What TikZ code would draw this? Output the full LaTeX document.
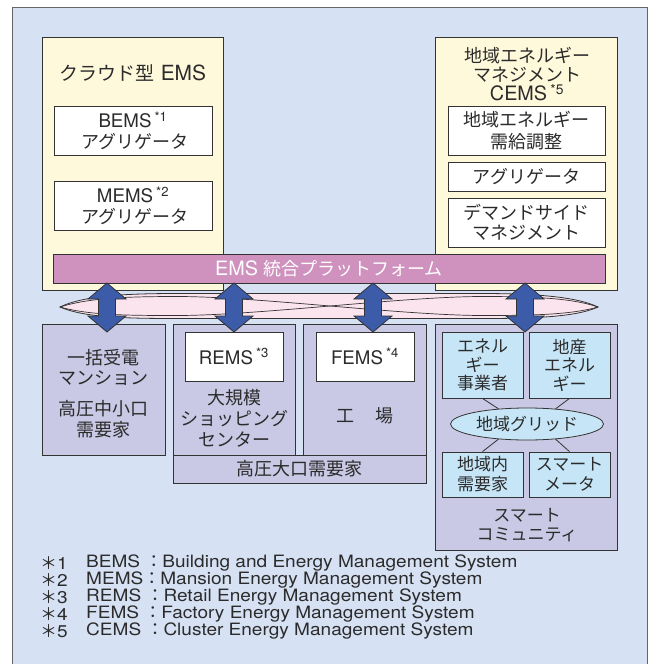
\documentclass[tikz,border=0pt]{standalone}
\usepackage{fontspec}
\setmainfont[Scale=1.1]{TeX Gyre Heros}
\newfontfamily\jpf{Noto Sans CJK JP}
\newfontfamily\footf[FakeStretch=1.12]{TeX Gyre Heros}
\usetikzlibrary{shapes.geometric,calc}
\definecolor{bgblue}{HTML}{D6E1F3}
\definecolor{ylw}{HTML}{FFF9DC}
\definecolor{mauve}{HTML}{CF91BE}
\definecolor{lenspink}{HTML}{FBE4EE}
\definecolor{arrblue}{HTML}{3C5BA8}
\definecolor{lav}{HTML}{C9C8E5}
\definecolor{cyanbox}{HTML}{C6E6F8}
\definecolor{textC}{HTML}{2B2B2B}
\definecolor{lineC}{HTML}{333333}
\newcommand\fs[2]{\fontsize{#1}{#2}\selectfont}
\tikzset{
  box/.style={draw=lineC, line width=0.8pt, inner sep=0pt, text=textC, align=center},
  ybox/.style={box, fill=ylw},
  wbox/.style={box, fill=white},
  lbox/.style={box, fill=lav},
  cbox/.style={box, fill=cyanbox},
  txt/.style={inner sep=0pt, text=textC, align=center},
  foot/.style={inner sep=0pt, text=textC, anchor=west, font=\footf\fs{17}{17}},
  arrowst/.style={fill=arrblue, draw=lineC, line width=0.8pt, line join=miter},
  conn/.style={draw=lineC, line width=0.8pt}
}
\begin{document}
\begin{tikzpicture}[x=1pt,y=-1pt]
\clip (0,0) rectangle (653,664);
\fill[white] (0,0) rectangle (653,664);
\draw[fill=bgblue, draw=gray!80!black, line width=0.8pt] (12,7) rectangle (647,700);

% upper yellow boxes
\node[ybox, minimum width=181pt, minimum height=253pt] (cloud) at (132.5,163.5) {};
\node[txt, font=\fs{19}{22}] (cloudt) at (133,73) {{\jpf クラウド型} EMS};
\node[wbox, minimum width=158pt, minimum height=49pt, font=\fs{17}{21}] (bems) at (133,130.5)
  {BEMS\,\textsuperscript{*1}\\{\jpf\fs{18}{21} アグリゲータ}};
\node[wbox, minimum width=158pt, minimum height=49pt, font=\fs{17}{21}] (mems) at (133,205.5)
  {MEMS\,\textsuperscript{*2}\\{\jpf\fs{18}{21} アグリゲータ}};

\node[ybox, minimum width=182pt, minimum height=253pt] (cems) at (526,163.5) {};
\node[txt, font=\fs{18}{19}] (cemst) at (527,74)
  {{\jpf 地域エネルギー}\\{\jpf マネジメント}\\CEMS\,\textsuperscript{*5}};
\node[wbox, minimum width=157pt, minimum height=49pt, font=\fs{18}{22}\jpf] (r1) at (526.5,130.5)
  {地域エネルギー\\需給調整};
\node[wbox, minimum width=157pt, minimum height=29pt, font=\fs{18}{22}\jpf] (r2) at (526.5,176.5)
  {アグリゲータ};
\node[wbox, minimum width=157pt, minimum height=49pt, font=\fs{18}{20}\jpf] (r3) at (526.5,222.5)
  {デマンドサイド\\マネジメント};

% platform bar
\node[box, fill=mauve, text=white, minimum width=552pt, minimum height=29pt, font=\fs{18}{20}] (plat) at (329,268.5)
  {EMS {\jpf 統合プラットフォーム}};

% lens (twisted ribbon)
\filldraw[fill=lenspink, draw=lineC, line width=0.8pt]
  (60,307) .. controls (85,295) and (130,293.5) .. (180,293.5) -- (480,293.5)
  .. controls (530,293.5) and (575,296) .. (598,307)
  .. controls (575,317.5) and (530,318.5) .. (480,318.5) -- (180,318.5)
  .. controls (130,318.5) and (85,318) .. (60,307) -- cycle;
\draw[lineC, line width=0.7pt]
  (60,307) .. controls (90,297.5) and (130,296.5) .. (180,296.5)
  .. controls (260,297) and (400,315) .. (480,315.5)
  .. controls (530,315.5) and (570,315) .. (598,307);
\draw[lineC, line width=0.7pt]
  (60,307) .. controls (90,315.5) and (130,315.5) .. (180,315.5)
  .. controls (260,315) and (400,297) .. (480,296.5)
  .. controls (530,296.5) and (570,297.5) .. (598,307);

% lower boxes
\node[lbox, minimum width=123pt, minimum height=131pt] (boxa) at (103.5,389.5) {};
\node[txt, font=\fs{18}{20}\jpf] (boxat1) at (103.5,367) {一括受電\\マンション};
\node[txt, font=\fs{18}{21}\jpf] (boxat2) at (103.5,419.5) {高圧中小口\\需要家};

\node[lbox, minimum width=122pt, minimum height=131pt] (boxb) at (234,389.5) {};
\node[wbox, minimum width=98pt, minimum height=49pt, font=\fs{17}{20}] (rems) at (234,356.5)
  {REMS\,\textsuperscript{*3}};
\node[txt, font=\fs{18}{21}\jpf] (boxbt) at (234,418) {大規模\\ショッピング\\センター};

\node[lbox, minimum width=123pt, minimum height=131pt] (boxc) at (364.5,389.5) {};
\node[wbox, minimum width=98pt, minimum height=49pt, font=\fs{17}{20}] (fems) at (365,356.5)
  {FEMS\,\textsuperscript{*4}};
\node[txt, font=\fs{18}{20}\jpf] (boxct) at (365,416) {工\hspace{1.2em}場};

\node[lbox, minimum width=253pt, minimum height=28pt, font=\fs{18}{20}\jpf] (large) at (299.5,469)
  {高圧大口需要家};

% smart community
\node[lbox, minimum width=182pt, minimum height=226pt] (smart) at (526,437) {};
\node[cbox, minimum width=81pt, minimum height=66pt, font=\fs{17}{18.5}\jpf] (e1) at (482.5,365)
  {エネル\\ギー\\事業者};
\node[cbox, minimum width=81pt, minimum height=66pt, font=\fs{17}{18.5}\jpf] (e2) at (569.5,365)
  {地産\\エネル\\ギー};
\node[box, ellipse, fill=cyanbox, minimum width=153pt, minimum height=32pt, font=\fs{17}{20}\jpf] (grid) at (527,424)
  {地域グリッド};
\node[cbox, minimum width=81pt, minimum height=45pt, font=\fs{17}{20}\jpf] (e3) at (482.5,474.5)
  {地域内\\需要家};
\node[cbox, minimum width=81pt, minimum height=45pt, font=\fs{17}{20}\jpf] (e4) at (569.5,474.5)
  {スマート\\メータ};
\node[txt, font=\fs{17}{19}\jpf] (smartt) at (527,525.5) {スマート\\コミュニティ};
\draw[conn] (e1.south) -- (grid.152);
\draw[conn] (e2.south) -- (grid.28);
\draw[conn] (e3.north) -- (grid.208);
\draw[conn] (e4.north) -- (grid.332);

% double arrows
\foreach \x in {107,234,373,525}{
  \draw[arrowst] (\x,283) -- ({\x+19},299) -- ({\x+8.5},299) -- ({\x+8.5},316) -- ({\x+19},316)
    -- (\x,332) -- ({\x-19},316) -- ({\x-8.5},316) -- ({\x-8.5},299) -- ({\x-19},299) -- cycle;
}

% footnotes
\node[foot] (n1) at (40,563) {{\jpf ＊}1};
\node[foot] (n2) at (40,580) {{\jpf ＊}2};
\node[foot] (n3) at (40,597) {{\jpf ＊}3};
\node[foot] (n4) at (40,614) {{\jpf ＊}4};
\node[foot] (n5) at (40,631) {{\jpf ＊}5};
\node[foot] (f1) at (86,563) {BEMS {\jpf ：}Building and Energy Management System};
\node[foot] (f2) at (86,580) {MEMS{\jpf ：}Mansion Energy Management System};
\node[foot] (f3) at (86,597) {REMS {\jpf ：}Retail Energy Management System};
\node[foot] (f4) at (86,614) {FEMS {\jpf ：}Factory Energy Management System};
\node[foot] (f5) at (86,631) {CEMS {\jpf ：}Cluster Energy Management System};
\end{tikzpicture}
\end{document}
